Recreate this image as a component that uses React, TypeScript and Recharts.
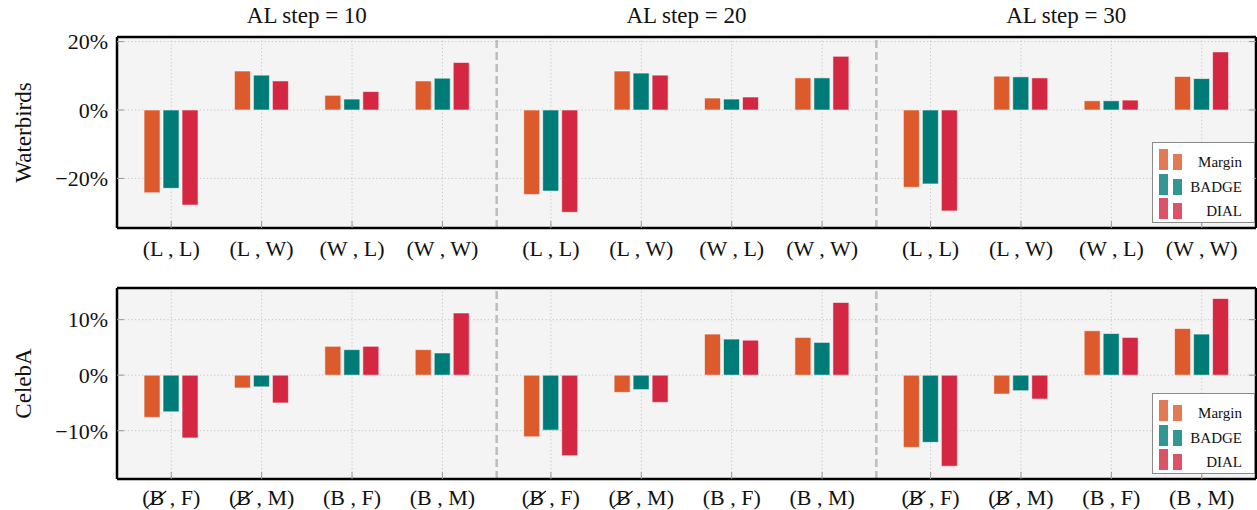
import React from "react";
import {
  BarChart,
  Bar,
  XAxis,
  YAxis,
  CartesianGrid,
  ReferenceLine,
  Legend,
} from "recharts";

const alSteps = ["AL step = 10", "AL step = 20", "AL step = 30"];
const seriesNames = ["Margin", "BADGE", "DIAL"];
const seriesColors = ["#dd5a2c", "#007c78", "#d42842"];

const waterbirdsGroups = ["(L , L)", "(L , W)", "(W , L)", "(W , W)"];
const celebaGroups = ["(B\u0338 , F)", "(B\u0338 , M)", "(B , F)", "(B , M)"];

// values in %, order: AL 10 groups, AL 20 groups, AL 30 groups
const waterbirdsMargin = [-24.2, 11.4, 4.3, 8.5, -24.7, 11.4, 3.5, 9.4, -22.6, 9.9, 2.7, 9.8];
const waterbirdsBadge = [-22.9, 10.2, 3.2, 9.3, -23.7, 10.8, 3.2, 9.4, -21.6, 9.7, 2.7, 9.2];
const waterbirdsDial = [-27.8, 8.5, 5.4, 13.9, -29.9, 10.2, 3.8, 15.7, -29.5, 9.4, 2.9, 17.0];

const celebaMargin = [-7.6, -2.3, 5.2, 4.6, -11.1, -3.1, 7.4, 6.8, -13.0, -3.4, 8.0, 8.4];
const celebaBadge = [-6.6, -2.1, 4.6, 4.0, -9.9, -2.6, 6.5, 5.9, -12.1, -2.8, 7.5, 7.4];
const celebaDial = [-11.3, -5.0, 5.2, 11.2, -14.5, -4.9, 6.3, 13.1, -16.4, -4.3, 6.8, 13.8];

const waterbirdsTicks = [-20, 0, 20];
const celebaTicks = [-10, 0, 10];

// category positions: 4 per AL step, with a wider gap between steps
const GROUP_STEP = 4.2;
const xPositions = alSteps.flatMap((_, g) => [0, 1, 2, 3].map((i) => +(g * GROUP_STEP + i).toFixed(2)));
const titlePositions = alSteps.map((_, g) => +(g * GROUP_STEP + 1.5).toFixed(2));
const separators = [1, 2].map((g) => +(g * GROUP_STEP - 0.6).toFixed(2));
const xDomain = [-0.6, 12.0];

const FONT = "'Liberation Serif', 'Times New Roman', serif";
const FS = 22;

function buildRows(a: number[], b: number[], c: number[]) {
  return xPositions.map((x, i) => ({
    x,
    [seriesNames[0]]: a[i],
    [seriesNames[1]]: b[i],
    [seriesNames[2]]: c[i],
  }));
}

const pct = (v: number) => (v < 0 ? `\u2212${-v}%` : `${v}%`);

// rough Liberation Serif advance widths (em) for the tick label glyphs
const glyphW: Record<string, number> = {
  "(": 0.333, ")": 0.333, " ": 0.25, ",": 0.25,
  B: 0.667, F: 0.556, M: 0.889, L: 0.611, W: 0.944,
};

function CategoryTick(props: any) {
  const { x, y, index, groups } = props;
  const raw: string = groups[index % groups.length];
  const struck = raw.includes("\u0338");
  const text = raw.replace("\u0338", "");
  const baseline = y + FS * 0.71;
  let strike = null;
  if (struck) {
    const total = text.split("").reduce((s, ch) => s + (glyphW[ch] ?? 0.5), 0) * FS;
    const bStart = x - total / 2 + glyphW["("] * FS;
    const bEnd = bStart + glyphW.B * FS;
    strike = (
      <line
        x1={bStart - 3}
        y1={baseline + 3}
        x2={bEnd + 2}
        y2={baseline - FS * 0.62}
        stroke="#111"
        strokeWidth={1.2}
      />
    );
  }
  return (
    <g>
      <text
        x={x}
        y={baseline}
        textAnchor="middle"
        fontSize={FS}
        fontFamily={FONT}
        fill="#111"
      >
        {text}
      </text>
      {strike}
    </g>
  );
}

function LegendBox({ payload }: any) {
  const items = seriesNames.map((n) => (payload || []).find((p: any) => p.value === n)).filter(Boolean);
  return (
    <div
      style={{
        width: 103,
        height: 81,
        boxSizing: "border-box",
        border: "1.5px solid #8a8a8a",
        background: "rgba(255,255,255,0.92)",
        paddingTop: 3,
        fontFamily: FONT,
      }}
    >
      {items.map((p: any) => (
        <div
          key={p.value}
          style={{ display: "flex", alignItems: "flex-end", height: 24.3 }}
        >
          <div
            style={{
              width: 7,
              height: 19,
              marginLeft: 6,
              background: p.color,
              opacity: 0.8,
              border: `1px solid ${p.color}`,
            }}
          />
          <div
            style={{
              width: 7,
              height: 14,
              marginLeft: 5,
              background: p.color,
              opacity: 0.8,
              border: `1px solid ${p.color}`,
            }}
          />
          <span
            style={{
              marginLeft: "auto",
              marginRight: 12,
              fontSize: 15,
              lineHeight: "15px",
              color: "#111",
            }}
          >
            {p.value}
          </span>
        </div>
      ))}
    </div>
  );
}

interface PanelProps {
  height: number;
  topAxisHeight: number;
  bottomAxisHeight: number;
  labelMargin: number;
  rows: any[];
  yDomain: number[];
  yTicks: number[];
  yLabel: string;
  groups: string[];
  titles: string[];
}

function Panel(props: PanelProps) {
  const { height, topAxisHeight, bottomAxisHeight, labelMargin, rows, yDomain, yTicks, yLabel, groups, titles } = props;
  return (
    <BarChart
      width={1257}
      height={height}
      data={rows}
      margin={{ top: 0, right: 0, bottom: 0, left: 0 }}
      barGap={3}
    >
      <CartesianGrid stroke="#c4c4c4" strokeDasharray="1.2 2.4" fill="#f4f4f4" />
      <XAxis
        dataKey="x"
        type="number"
        domain={xDomain}
        allowDataOverflow
        ticks={xPositions}
        interval={0}
        height={bottomAxisHeight}
        axisLine={{ stroke: "#000", strokeWidth: 2.5 }}
        tickLine={{ stroke: "#999" }}
        tickSize={-7}
        tickMargin={labelMargin}
        tick={<CategoryTick groups={groups} />}
      />
      <XAxis
        xAxisId="top"
        dataKey="x"
        orientation="top"
        type="number"
        domain={xDomain}
        allowDataOverflow
        ticks={titlePositions}
        interval={0}
        height={topAxisHeight}
        axisLine={{ stroke: "#000", strokeWidth: 2.5 }}
        tickLine={false}
        tickSize={0}
        tickMargin={14}
        tick={{ fill: "#111", fontSize: 23, fontFamily: FONT }}
        tickFormatter={(_: any, i: number) => titles[i] || ""}
      />
      <YAxis
        type="number"
        domain={yDomain}
        allowDataOverflow
        ticks={yTicks}
        width={117}
        axisLine={{ stroke: "#000", strokeWidth: 2.5 }}
        tickLine={{ stroke: "#999" }}
        tickSize={-7}
        tickMargin={16}
        tick={{ fill: "#111", fontSize: FS, fontFamily: FONT }}
        tickFormatter={pct}
        label={{
          value: yLabel,
          content: ({ viewBox }: any) => {
            const cy = viewBox.y + viewBox.height / 2;
            return (
              <text
                x={23}
                y={cy}
                transform={`rotate(-90, 23, ${cy})`}
                textAnchor="middle"
                dominantBaseline="central"
                fontSize={23}
                fontFamily={FONT}
                fill="#111"
              >
                {yLabel}
              </text>
            );
          },
        }}
      />
      <YAxis
        yAxisId="right"
        orientation="right"
        type="number"
        domain={yDomain}
        allowDataOverflow
        ticks={yTicks}
        width={1}
        axisLine={{ stroke: "#000", strokeWidth: 2.5 }}
        tickLine={{ stroke: "#999" }}
        tickSize={-7}
        tickFormatter={() => ""}
      />
      {separators.map((s) => (
        <ReferenceLine
          key={s}
          x={s}
          stroke="#bdbdbd"
          strokeWidth={2.5}
          strokeDasharray="8 4"
        />
      ))}
      {seriesNames.map((name, k) => (
        <Bar
          key={name}
          dataKey={name}
          name={name}
          fill={seriesColors[k]}
          stroke="rgba(255,255,255,0.55)"
          strokeWidth={1}
          barSize={16}
          isAnimationActive={false}
        />
      ))}
      <Legend
        layout="vertical"
        align="center"
        verticalAlign="middle"
        content={<LegendBox />}
        wrapperStyle={{ position: "absolute", left: 1152, top: topAxisHeight + 105, width: 103, height: 81 }}
      />
    </BarChart>
  );
}

export default function App() {
  return (
    <div
      style={{
        position: "absolute",
        left: 0,
        top: 0,
        width: 1257,
        height: 510,
        background: "#fff",
        fontFamily: FONT,
      }}
    >
      <Panel
        height={265}
        topAxisHeight={37}
        bottomAxisHeight={37}
        labelMargin={19}
        rows={buildRows(waterbirdsMargin, waterbirdsBadge, waterbirdsDial)}
        yDomain={[-34.5, 21.35]}
        yTicks={waterbirdsTicks}
        yLabel="Waterbirds"
        groups={waterbirdsGroups}
        titles={alSteps}
      />
      <Panel
        height={245}
        topAxisHeight={23}
        bottomAxisHeight={31}
        labelMargin={17}
        rows={buildRows(celebaMargin, celebaBadge, celebaDial)}
        yDomain={[-18.7, 15.7]}
        yTicks={celebaTicks}
        yLabel="CelebA"
        groups={celebaGroups}
        titles={[]}
      />
    </div>
  );
}
